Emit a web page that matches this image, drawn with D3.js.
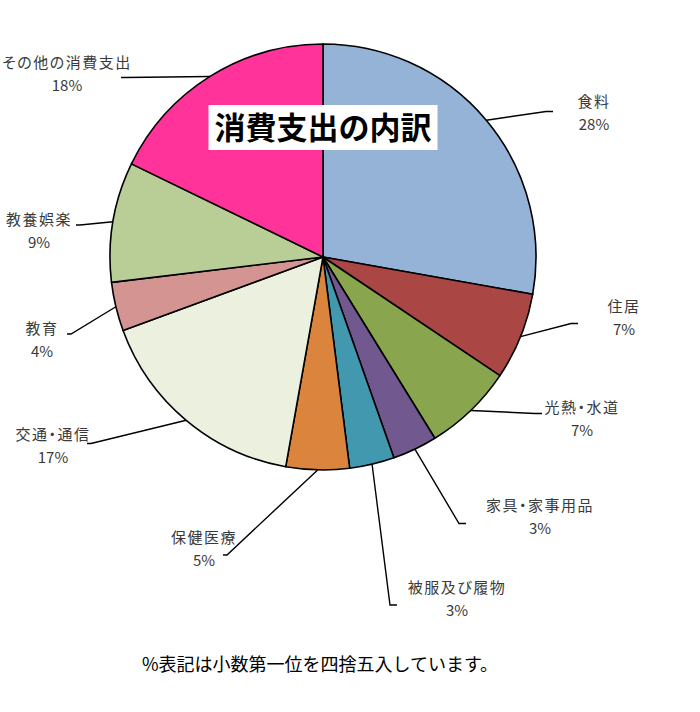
<!DOCTYPE html>
<html>
<head>
<meta charset="utf-8">
<script src="https://cdn.jsdelivr.net/npm/d3@7"></script>
<style>
  body { margin: 0; background: #fff; }
  svg { display: block; }
  .lbl text { font-feature-settings: "palt"; }
</style>
</head>
<body>
<div id="chart"></div>
<script>
// data (percent of consumer spending)
var categories = ["食料", "住居", "光熱・水道", "家具・家事用品", "被服及び履物",
                  "保健医療", "交通・通信", "教育", "教養娯楽", "その他の消費支出"];
var shares = [27.8, 6.6, 6.8, 3.4, 3.4, 4.8, 16.6, 3.7, 9.1, 17.8];
var sliceColors = ["#95b3d7", "#aa4643", "#89a54e", "#71588f", "#4198af",
                   "#db843d", "#ebf1de", "#d49492", "#b9cd96", "#ff3399"];

// where each data label sits (text centre, first line) and where its leader line bends
var labelPos = [[594, 102], [624, 307], [582, 408], [540, 506], [457, 588],
                [204, 538], [53, 435], [42, 329], [39, 220], [67, 63]];
var leaderBend = [[546, 111.5], [571, 323.5], [535, 413.5], [459, 523.5], [390, 605],
                  [227, 555], [91, 443.5], [71, 334], [80, 225], [125, 77.5]];

var svgWidth = 700;
var svgHeight = 712;
var cx = 323, cy = 257, radius = 213;

var svg = d3.select("#chart")
  .append("svg")
  .attr("width", svgWidth)
  .attr("height", svgHeight);

var rows = categories.map(function(c, i) {
  return { name: c, value: shares[i], color: sliceColors[i], lp: labelPos[i], bend: leaderBend[i] };
});

var pie = d3.pie().sort(null).value(d => d.value);
var arc = d3.arc().innerRadius(0).outerRadius(radius);
var arcs = pie(rows);

var pieGroup = svg.append("g")
  .attr("transform", `translate(${cx}, ${cy})`);

pieGroup.selectAll("path")
  .data(arcs)
  .enter()
  .append("path")
  .attr("d", arc)
  .attr("fill", d => d.data.color)
  .attr("stroke", "#000")
  .attr("stroke-width", 1.6)
  .attr("stroke-linejoin", "round");

// leader lines: from the rim at the slice mid-angle, to the bend, then a short flat tail
var leaders = svg.append("g");
arcs.forEach(function(d) {
  var mid = (d.startAngle + d.endAngle) / 2;
  var x0 = cx + radius * Math.sin(mid);
  var y0 = cy - radius * Math.cos(mid);
  var bx = d.data.bend[0], by = d.data.bend[1];
  var tail = bx > cx ? 7 : -4;
  leaders.append("path")
    .attr("d", d3.line()([[x0, y0], [bx, by], [bx + tail, by]]))
    .attr("fill", "none")
    .attr("stroke", "#000")
    .attr("stroke-width", 1.4);
});

// data labels
var fmt = d3.format(".0f");
var labels = svg.append("g")
  .attr("class", "lbl")
  .attr("font-family", "'Noto Sans CJK JP', 'Noto Sans', sans-serif")
  .attr("font-size", "15px")
  .attr("fill", "#3a3a3a")
  .attr("text-anchor", "middle");

labels.selectAll("text.name")
  .data(arcs)
  .enter()
  .append("text")
  .attr("class", "name")
  .attr("x", d => d.data.lp[0])
  .attr("y", d => d.data.lp[1])
  .attr("dy", "0.35em")
  .attr("letter-spacing", "1.5px")
  .text(d => d.data.name);

labels.selectAll("text.pct")
  .data(arcs)
  .enter()
  .append("text")
  .attr("class", "pct")
  .attr("x", d => d.data.lp[0])
  .attr("y", d => d.data.lp[1] + 22.5)
  .attr("dy", "0.35em")
  .text(d => fmt(d.data.value) + "%");

// title in a white box over the pie
svg.append("rect")
  .attr("x", 208.5)
  .attr("y", 105)
  .attr("width", 229)
  .attr("height", 45)
  .attr("fill", "#fff");

svg.append("text")
  .attr("x", 323)
  .attr("y", 128)
  .attr("dy", "0.35em")
  .attr("text-anchor", "middle")
  .attr("font-family", "'Noto Sans CJK JP', sans-serif")
  .attr("font-weight", "bold")
  .attr("font-size", "31px")
  .attr("fill", "#000")
  .text("消費支出の内訳");

// note under the chart
svg.append("text")
  .attr("x", 320)
  .attr("y", 665)
  .attr("dy", "0.35em")
  .attr("text-anchor", "middle")
  .attr("font-family", "'Noto Sans CJK JP', sans-serif")
  .attr("font-size", "18px")
  .attr("fill", "#000")
  .text("%表記は小数第一位を四捨五入しています。");
</script>
</body>
</html>
